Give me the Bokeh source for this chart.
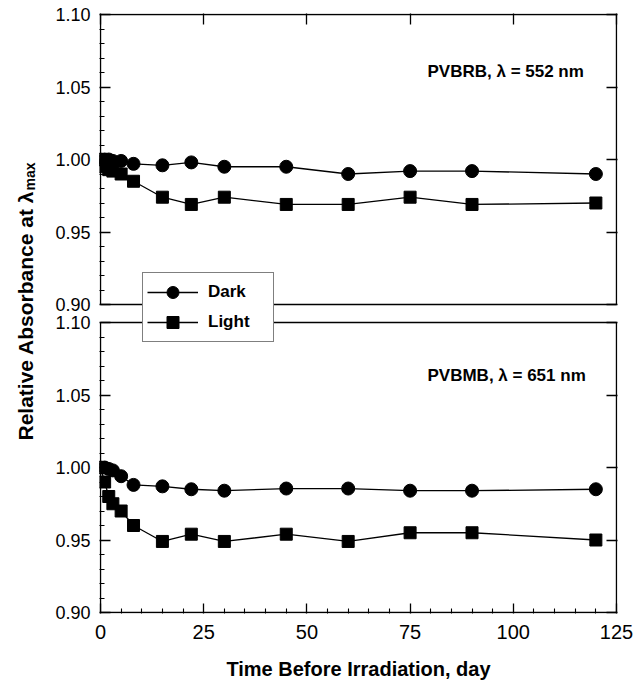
from bokeh.plotting import figure
from bokeh.layouts import row
from bokeh.models import (Range1d, LinearAxis, FixedTicker, CustomJSTickFormatter,
                          CustomLabelingPolicy, Label, Legend, LegendItem, ColumnDataSource)
from bokeh.embed import file_html
from bokeh.resources import INLINE

# ---------------- data ----------------
days = [0, 1, 2, 3, 5, 8, 15, 22, 30, 45, 60, 75, 90, 120]
pvbrb_dark = [1.000, 1.000, 1.000, 0.999, 0.999, 0.997, 0.996, 0.998, 0.995, 0.995, 0.990, 0.992, 0.992, 0.990]
pvbrb_light = [1.000, 0.995, 0.993, 0.992, 0.990, 0.985, 0.974, 0.969, 0.974, 0.969, 0.969, 0.974, 0.969, 0.970]
pvbmb_dark = [1.000, 1.000, 0.999, 0.998, 0.994, 0.988, 0.987, 0.985, 0.984, 0.9855, 0.9855, 0.984, 0.984, 0.985]
pvbmb_light = [1.000, 0.990, 0.980, 0.975, 0.970, 0.960, 0.949, 0.954, 0.949, 0.954, 0.949, 0.955, 0.955, 0.950]

series_names = ["Dark", "Light"]
panel_titles = ["PVBRB, \u03bb = 552 nm", "PVBMB, \u03bb = 651 nm"]
x_title = "Time Before Irradiation, day"
y_title = "Relative Absorbance at \u03bb"
y_title_sub = "max"

x_ticks = [0, 25, 50, 75, 100, 125]
x_minor = [v for v in range(0, 126, 5) if v % 25]
y_ticks = [0.90, 0.95, 1.00, 1.05, 1.10]
y_minor = [round(0.90 + 0.01 * i, 2) for i in range(21) if i % 5]
X_MIN, X_MAX = 0, 125
Y_MIN, Y_MAX = 0.90, 1.10

# ---------------- layout ----------------
FONT = "Liberation Sans"
W_TOTAL, H_TOTAL = 637, 685
LEFT_W = 40
B_LEFT, B_TOP = 59, 13
FW, FH = 518, 600
B_RIGHT = W_TOTAL - LEFT_W - B_LEFT - FW
B_BOTTOM = H_TOTAL - B_TOP - FH
PANEL_H, PAD = 290, 1
FRAME_LEFT_ABS = LEFT_W + B_LEFT
FRAME_BOTTOM_ABS = B_TOP + FH

xpp = (X_MAX - X_MIN) / (FW - 2 * PAD)
upp = (Y_MAX - Y_MIN) / PANEL_H
X_START = X_MIN - PAD * xpp
X_END = X_MAX + PAD * xpp
# default range = bottom panel units
YB_START = Y_MIN - PAD * upp
YB_END = YB_START + FH * upp
# extra range = top panel units
YT_END = Y_MAX + PAD * upp
YT_START = YT_END - FH * upp
OFF = YB_START - YT_START


def xd(px):
    return X_START + (px - FRAME_LEFT_ABS) * xpp


def yd(py):
    return YB_START + (FRAME_BOTTOM_ABS - py) * upp


p = figure(width=B_LEFT + FW + B_RIGHT, height=H_TOTAL,
           x_range=Range1d(X_START, X_END), y_range=Range1d(YB_START, YB_END),
           x_axis_location=None, y_axis_location=None,
           output_backend="svg", toolbar_location=None,
           min_border_left=B_LEFT, min_border_right=B_RIGHT,
           min_border_top=B_TOP, min_border_bottom=B_BOTTOM)
p.extra_y_ranges = {"top": Range1d(YT_START, YT_END)}
p.outline_line_color = None
p.grid.visible = False

# panel boxes
p.quad(left=[X_MIN], right=[X_MAX], bottom=[Y_MIN], top=[Y_MAX], y_range_name="top",
       fill_color=None, line_color="black", line_width=1.4)
p.quad(left=[X_MIN], right=[X_MAX], bottom=[Y_MIN], top=[Y_MAX],
       fill_color=None, line_color="black", line_width=1.4)

src_top = ColumnDataSource(dict(day=days, dark=pvbrb_dark, light=pvbrb_light))
src_bot = ColumnDataSource(dict(day=days, dark=pvbmb_dark, light=pvbmb_light))

renderers = {}
for name, src, rng in [("top", src_top, "top"), ("bot", src_bot, "default")]:
    ld = p.line("day", "light", source=src, y_range_name=rng, line_color="black", line_width=1.3)
    sd = p.scatter("day", "light", source=src, y_range_name=rng, marker="square", size=12,
                   fill_color="black", line_color="black")
    l2 = p.line("day", "dark", source=src, y_range_name=rng, line_color="black", line_width=1.3)
    s2 = p.scatter("day", "dark", source=src, y_range_name=rng, marker="circle", size=13,
                   fill_color="black", line_color="black")
    renderers[name] = dict(dark=[l2, s2], light=[ld, sd])

# axes
fmt = CustomJSTickFormatter(args=dict(off=OFF),
                            code="const v = tick > 1.106 ? tick - off : tick; return v.toFixed(2);")
left = LinearAxis(ticker=FixedTicker(ticks=y_ticks + [t + OFF for t in y_ticks],
                                     minor_ticks=y_minor + [m + OFF for m in y_minor]),
                  formatter=fmt, axis_line_color=None,
                  major_tick_in=11, major_tick_out=0, minor_tick_in=5, minor_tick_out=0,
                  major_tick_line_width=1.3, minor_tick_line_width=1.1,
                  major_label_standoff=9, major_label_text_font_size="18px",
                  major_label_text_font=FONT, major_label_text_color="black")
p.add_layout(left, "left")

no_labels = "return []"
right = LinearAxis(ticker=FixedTicker(ticks=y_ticks + [t + OFF for t in y_ticks], minor_ticks=[]),
                   axis_line_color=None, major_tick_in=11, major_tick_out=0,
                   minor_tick_in=0, minor_tick_out=0, major_tick_line_width=1.3,
                   major_label_policy=CustomLabelingPolicy(code=no_labels),
                   major_label_text_font_size="1px", major_label_standoff=0)
p.add_layout(right, "right")

below = LinearAxis(ticker=FixedTicker(ticks=x_ticks, minor_ticks=x_minor),
                   axis_line_color=None, major_tick_in=10, major_tick_out=0,
                   minor_tick_in=5, minor_tick_out=0, major_tick_line_width=1.3,
                   minor_tick_line_width=1.1,
                   major_label_standoff=11, major_label_text_font_size="20px",
                   major_label_text_font=FONT, major_label_text_color="black",
                   axis_label=x_title, axis_label_standoff=16,
                   axis_label_text_font=FONT, axis_label_text_font_size="20px",
                   axis_label_text_font_style="bold", axis_label_text_color="black")
p.add_layout(below, "below")

above = LinearAxis(ticker=FixedTicker(ticks=x_ticks, minor_ticks=[]),
                   axis_line_color=None, major_tick_in=11, major_tick_out=0,
                   minor_tick_in=0, minor_tick_out=0, major_tick_line_width=1.3,
                   major_label_policy=CustomLabelingPolicy(code=no_labels),
                   major_label_text_font_size="1px", major_label_standoff=0)
p.add_layout(above, "above")

# panel annotations
for txt, py in [(panel_titles[0], 71), (panel_titles[1], 375)]:
    p.add_layout(Label(x=xd(427), y=yd(py), text=txt, text_font=FONT, text_font_size="17px",
                       text_font_style="bold", text_baseline="middle", text_align="left",
                       text_color="black"))

# legend
legend = Legend(items=[LegendItem(label=series_names[0], renderers=renderers["bot"]["dark"]),
                       LegendItem(label=series_names[1], renderers=renderers["bot"]["light"])],
                location=(142 - FRAME_LEFT_ABS, FRAME_BOTTOM_ABS - 342), orientation="vertical",
                border_line_color="black", border_line_width=1.2,
                background_fill_color="white", background_fill_alpha=1.0,
                label_text_font=FONT, label_text_font_size="17px", label_text_font_style="bold",
                label_text_color="black",
                glyph_width=51, glyph_height=30, label_height=22, label_width=61,
                label_standoff=10, spacing=0, padding=4, margin=0)
p.add_layout(legend, "center")

# left strip carrying the y-axis title; its frame is aligned with the main frame
t = figure(width=LEFT_W, height=H_TOTAL, x_range=Range1d(0, LEFT_W),
           y_range=Range1d(H_TOTAL - FRAME_BOTTOM_ABS, H_TOTAL - B_TOP),
           x_axis_location=None, y_axis_location=None, output_backend="svg",
           toolbar_location=None, min_border_left=0, min_border_right=0,
           min_border_top=B_TOP, min_border_bottom=B_BOTTOM)
t.outline_line_color = None
t.grid.visible = False
t.add_layout(Label(x=24.5, y=H_TOTAL - 440, text=y_title, angle=90, angle_units="deg",
                   text_font=FONT, text_font_size="21px", text_font_style="bold",
                   text_align="left", text_baseline="middle", text_color="black"))
t.add_layout(Label(x=29.5, y=H_TOTAL - 190, text=y_title_sub, angle=90, angle_units="deg",
                   text_font=FONT, text_font_size="14px", text_font_style="bold",
                   text_align="left", text_baseline="middle", text_color="black"))

layout = row(t, p)
open("out.html", "w").write(file_html(layout, INLINE))
